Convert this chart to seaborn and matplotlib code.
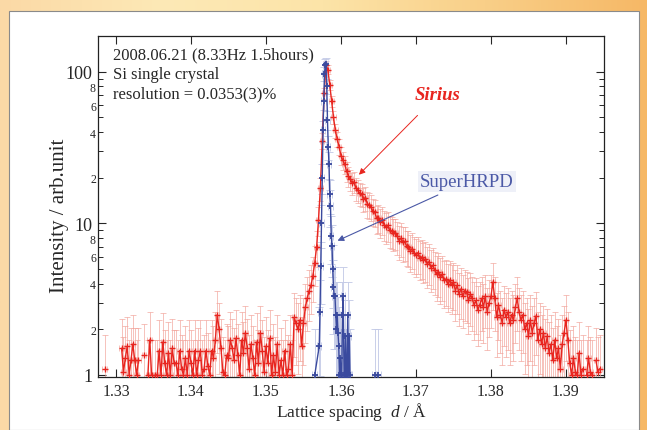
import numpy as np
import pandas as pd
import matplotlib
matplotlib.use('Agg')
import matplotlib.pyplot as plt
import seaborn as sns
from matplotlib.patches import Rectangle
from matplotlib.colors import LinearSegmentedColormap
from matplotlib.ticker import FixedLocator, FixedFormatter, FuncFormatter

# ---- data ----
# Sirius: evenly binned in d, starting at 1.3285, bin 0.00025 A (nan = no point)
sirius_d0 = 1.3285
sirius_step = 0.00025
sirius_I = [
    1.1, np.nan, np.nan, np.nan, np.nan, np.nan, np.nan, np.nan, np.nan, 1.5,
    1.05, 1.3, 1.55, 1.0, 1.25, 1.6, 1.25, 1.0, 1.25, np.nan,
    np.nan, 1.35, np.nan, 1.0, 1.7, 1.0, np.nan, 1.0, 1.0, 1.45,
    1.0, 1.65, 1.2, 1.0, 1.4, 1.0, 1.5, 1.2, 1.2, 1.0,
    1.45, 1.1, 1.0, 1.3, 1.0, 1.45, 1.2, 1.0, 1.45, 1.0,
    1.25, 1.45, 1.0, 1.1, 1.45, 1.15, 1.0, 1.45, 1.3, 1.7,
    2.5, 2.0, 1.5, 1.05, 1.0, 1.35, 1.3, 1.7, 1.5, 1.25,
    1.75, 1.35, 1.0, 1.7, 1.4, 1.9, 1.5, 1.1, 1.6, 1.3,
    1.0, 1.65, 1.2, 1.9, 1.45, 1.05, 1.55, 1.2, 1.75, 1.0,
    1.35, 1.05, 1.6, 1.0, 1.25, 1.0, 1.45, 1.0, 1.1, 1.6,
    1.0, 2.4, 2.2, 2.0, 2.3, 1.55, 2.2, 2.8, 3.2, 3.6,
    3.9, 4.5, 5.5, 7.0, 10.5, 17, 35, 72, 110, 103,
    82, 64, 50, 41, 36, 32, 28, 26, 24.5, 22,
    20.5, 19.5, 18.5, 18.8, 17, 16.5, 15.8, 15.5, 14.5, 14.8,
    13.5, 13.2, 12.8, 12.0, 11.8, 10.8, 10.9, 10.2, 10.6, 9.8,
    9.5, 9.7, 9.0, 8.9, 8.6, 8.7, 8.2, 7.7, 8.0, 7.5,
    7.6, 7.1, 7.0, 6.6, 6.8, 6.4, 6.2, 6.4, 5.9, 6.0,
    5.7, 5.8, 5.4, 5.6, 5.1, 5.3, 4.9, 4.6, 4.8, 4.4,
    4.6, 4.2, 4.3, 4.0, 4.2, 3.9, 4.1, 3.6, 3.9, 3.4,
    3.7, 3.3, 3.6, 3.5, 3.1, 3.4, 3.2, 2.9, 3.1, 2.7,
    2.9, 3.2, 2.8, 3.3, 2.6, 3.0, 3.3, 4.1, 3.2, 2.4,
    2.9, 2.5, 2.2, 2.7, 2.4, 2.6, 2.2, 2.5, 2.3, 2.8,
    3.2, 2.6, 2.3, 2.5, 2.0, 2.2, 1.8, 2.3, 1.9, 2.2,
    2.45, 1.7, 2.0, 1.6, 1.9, 1.5, 1.8, 1.4, 1.6, 1.25,
    1.7, 1.3, 1.5, 1.1, 1.6, 1.9, 2.3, 1.7, 1.2, 1.0,
    1.3, 1.05, 1.0, 1.4, 1.0, 1.1, np.nan, 1.0, 1.3, 1.05,
    1.0, np.nan, 1.25, 1.05, 1.1,
]
sirius_d = np.round(sirius_d0 + sirius_step * np.arange(len(sirius_I)), 5)

# SuperHRPD
hrpd_d = [1.3565, 1.3571, 1.3572, 1.3573, 1.3574, 1.3575, 1.3576, 1.3577, 1.3578, 1.3579,
          1.3580, 1.3581, 1.3582, 1.3583, 1.3584, 1.3585, 1.3586, 1.3587, 1.3588, 1.3589,
          1.3590, 1.3591, 1.3592, 1.3593, 1.3594, 1.3595, 1.3596, 1.3597, 1.3598, 1.3599,
          1.3600, 1.3601, 1.3602, 1.3603, 1.3604, 1.3605, 1.3606, 1.3607, 1.3608, 1.3609,
          1.3610, 1.3611, 1.3612, 1.3645, 1.3650]
hrpd_I = [1.0, 1.55, 2.6, 5.2, 10, 20, 41, 64, 97, 110,
          113, 80, 48, 32, 24.5, 15.5, 13, 8.3, 7.1, 5.0,
          3.8, 3.3, 3.3, 2.5, 2.0, 2.5, 1.9, 1.55, 1.0, 1.3,
          1.0, 1.0, 2.5, 3.3, 1.0, 1.0, 1.8, 1.0, 1.0, 2.5,
          1.0, 1.8, 1.0, 1.0, 1.0]

sirius = pd.DataFrame({'d': sirius_d, 'I': sirius_I})
# break the line where a bin is empty
sirius['seg'] = sirius['I'].isna().cumsum()
sirius = sirius.dropna()
hrpd = pd.DataFrame({'d': hrpd_d, 'I': hrpd_I})
hrpd['seg'] = (hrpd['d'].diff() > 0.001).cumsum()
# counting-statistics error bars
sirius['err'] = 0.7 * np.sqrt(sirius['I'])
hrpd['err'] = 1.0 * np.sqrt(hrpd['I'])

red = '#e8251f'
blue = '#3a4a9e'

sns.set_style('ticks')
plt.rcParams['font.family'] = ['Liberation Serif', 'DejaVu Serif']
plt.rcParams['mathtext.fontset'] = 'custom'
plt.rcParams['mathtext.it'] = 'Liberation Serif:italic'
plt.rcParams['mathtext.rm'] = 'Liberation Serif'

fig = plt.figure(figsize=(6.47, 4.31), dpi=100)

# orange/yellow frame behind a white panel
bg = fig.add_axes([0, 0, 1, 1], zorder=-5)
cmap = LinearSegmentedColormap.from_list(
    'frame', ['#fbd9a6', '#fde9b6', '#fce4a8', '#f9cf88', '#f6b866'])
bg.imshow(np.linspace(0, 1, 256)[None, :], aspect='auto', cmap=cmap, extent=[0, 1, 0, 1])
bg.add_patch(Rectangle((9 / 647, 0), 630 / 647, 419 / 431, transform=bg.transAxes,
                       facecolor='white', edgecolor='#8a8a8a', lw=0.8))
bg.set_xlim(0, 1)
bg.set_ylim(0, 1)
bg.axis('off')

ax = fig.add_axes([98 / 647, 53 / 431, 506 / 647, 341 / 431])
ax.set_facecolor('white')

ax.errorbar(sirius['d'], sirius['I'], yerr=sirius['err'], xerr=0.0003, fmt='none',
            ecolor='#f2a097', elinewidth=0.6, capsize=2.5, capthick=0.6, alpha=0.75, zorder=1)
ax.errorbar(hrpd['d'], hrpd['I'], yerr=hrpd['err'], xerr=0.0003, fmt='none',
            ecolor='#c3cae6', elinewidth=0.7, capsize=3, capthick=0.7, alpha=0.9, zorder=2)
sns.lineplot(data=sirius, x='d', y='I', units='seg', ax=ax, color=red, lw=1.0, marker='+',
             markersize=4, markeredgewidth=1.0, markeredgecolor=red,
             estimator=None, sort=False, zorder=3)
sns.lineplot(data=hrpd, x='d', y='I', units='seg', ax=ax, color=blue, lw=1.0, marker='+',
             markersize=5, markeredgewidth=1.3, markeredgecolor=blue,
             estimator=None, sort=False, zorder=4)

ax.set_yscale('log')
ax.set_xlim(1.3276, 1.39507)
ax.set_ylim(0.97, 172)

ax.set_xticks([1.33, 1.34, 1.35, 1.36, 1.37, 1.38, 1.39])
ax.set_xticklabels(['1.33', '1.34', '1.35', '1.36', '1.37', '1.38', '1.39'])
ax.yaxis.set_major_locator(FixedLocator([1, 10, 100]))
ax.yaxis.set_major_formatter(FixedFormatter(['1', '10', '100']))
minor = [2, 3, 4, 5, 6, 7, 8, 9, 20, 30, 40, 50, 60, 70, 80, 90]
ax.yaxis.set_minor_locator(FixedLocator(minor))


def minor_label(v, pos):
    m = int(round(v / 10 ** np.floor(np.log10(v) + 1e-9)))
    return str(m) if m in (2, 4, 6, 8) else ''


ax.yaxis.set_minor_formatter(FuncFormatter(minor_label))
ax.tick_params(axis='x', which='major', direction='in', length=6, width=0.8,
               labelsize=11.5, top=True, pad=4)
ax.tick_params(axis='y', which='major', direction='in', length=6, width=0.8,
               labelsize=13, right=True, pad=4)
ax.tick_params(axis='y', which='minor', direction='in', length=3.5, width=0.7,
               labelsize=8.5, right=True, pad=1.5)
ax.tick_params(axis='x', which='minor', bottom=False, top=False)
for s in ax.spines.values():
    s.set_color('#222222')
    s.set_linewidth(0.9)

ax.set_xlabel(r'Lattice spacing  $d$ / Å', fontsize=12.5, labelpad=1)
ax.set_ylabel('Intensity / arb.unit', fontsize=15)
ax.yaxis.set_label_coords(-0.058, 0.475)

for yy, txt in zip([0.947, 0.89, 0.832],
                   ['2008.06.21 (8.33Hz 1.5hours)', 'Si single crystal',
                    'resolution = 0.0353(3)%']):
    ax.text(0.03, yy, txt, transform=ax.transAxes, fontsize=12, va='center', ha='left')

ax.annotate('Sirius', xy=(1.36213, 20.3), xytext=(1.37293, 70.5), color=red,
            fontsize=13.5, fontstyle='italic', fontweight='bold', ha='center', va='center',
            arrowprops=dict(arrowstyle='-|>', color=red, lw=0.7, shrinkA=9,
                            mutation_scale=9))
ax.annotate('SuperHRPD', xy=(1.3592, 7.55), xytext=(1.3768, 18.8), color='#4a58a6',
            fontsize=13.5, ha='center', va='center',
            bbox=dict(boxstyle='square,pad=0.1', fc='#eef0f8', ec='none'),
            arrowprops=dict(arrowstyle='-|>', color='#4a58a6', lw=0.8, shrinkA=5,
                            mutation_scale=9))

fig.savefig('out.png', dpi=100)
